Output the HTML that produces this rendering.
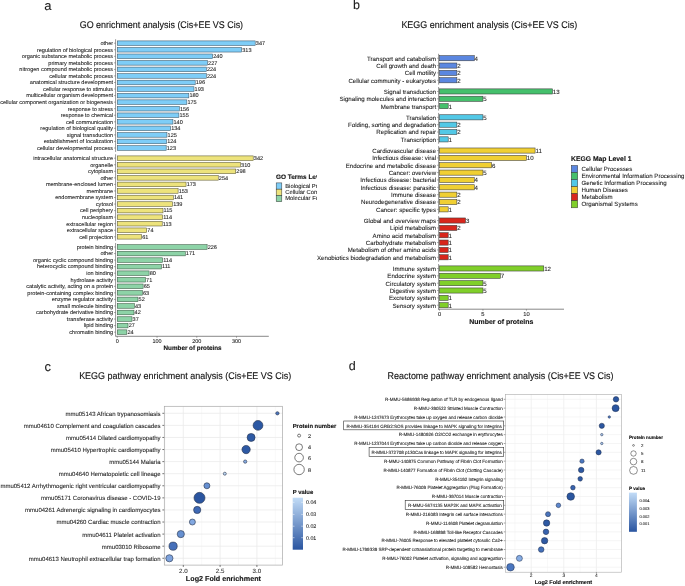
<!DOCTYPE html>
<html><head><meta charset="utf-8"><style>
html,body{margin:0;padding:0;background:#fff;}
svg{display:block;font-family:"Liberation Sans",sans-serif;will-change:transform;text-rendering:geometricPrecision;}
</style></head><body>
<svg width="685" height="586" viewBox="0 0 685 586">
<rect width="685" height="586" fill="#fff"/>
<text x="44.30" y="9.80" font-size="13" fill="#1a1a1a" stroke="#1a1a1a" stroke-width="0.08">a</text>
<text x="352.90" y="9.25" font-size="12.5" fill="#1a1a1a" stroke="#1a1a1a" stroke-width="0.08">b</text>
<text x="44.60" y="371.10" font-size="13" fill="#1a1a1a" stroke="#1a1a1a" stroke-width="0.08">c</text>
<text x="348.70" y="369.70" font-size="12.5" fill="#1a1a1a" stroke="#1a1a1a" stroke-width="0.08">d</text>
<text x="161.40" y="27.70" font-size="9.7" text-anchor="middle" fill="#111" stroke="#111" stroke-width="0.12" textLength="163.34" lengthAdjust="spacingAndGlyphs">GO enrichment analysis (Cis+EE VS Cis)</text>
<line x1="115.60" y1="39.27" x2="115.60" y2="151.93" stroke="#8a8a8a" stroke-width="0.9"/>
<rect x="117.30" y="40.91" width="137.90" height="4.58" fill="#7ECDF7" stroke="#3b5566" stroke-width="0.55"/>
<line x1="114.00" y1="43.20" x2="115.60" y2="43.20" stroke="#555" stroke-width="0.5"/>
<text x="113.10" y="45.00" font-size="5.55" text-anchor="end" fill="#1c1c1c" stroke="#1c1c1c" stroke-width="0.08">other</text>
<text x="255.80" y="45.00" font-size="5.55" fill="#1c1c1c" stroke="#1c1c1c" stroke-width="0.08">347</text>
<rect x="117.30" y="47.46" width="124.39" height="4.58" fill="#7ECDF7" stroke="#3b5566" stroke-width="0.55"/>
<line x1="114.00" y1="49.75" x2="115.60" y2="49.75" stroke="#555" stroke-width="0.5"/>
<text x="113.10" y="51.55" font-size="5.55" text-anchor="end" fill="#1c1c1c" stroke="#1c1c1c" stroke-width="0.08">regulation of biological process</text>
<text x="242.29" y="51.55" font-size="5.55" fill="#1c1c1c" stroke="#1c1c1c" stroke-width="0.08">313</text>
<rect x="117.30" y="54.01" width="95.38" height="4.58" fill="#7ECDF7" stroke="#3b5566" stroke-width="0.55"/>
<line x1="114.00" y1="56.30" x2="115.60" y2="56.30" stroke="#555" stroke-width="0.5"/>
<text x="113.10" y="58.10" font-size="5.55" text-anchor="end" fill="#1c1c1c" stroke="#1c1c1c" stroke-width="0.08">organic substance metabolic process</text>
<text x="213.28" y="58.10" font-size="5.55" fill="#1c1c1c" stroke="#1c1c1c" stroke-width="0.08">240</text>
<rect x="117.30" y="60.56" width="90.21" height="4.58" fill="#7ECDF7" stroke="#3b5566" stroke-width="0.55"/>
<line x1="114.00" y1="62.85" x2="115.60" y2="62.85" stroke="#555" stroke-width="0.5"/>
<text x="113.10" y="64.65" font-size="5.55" text-anchor="end" fill="#1c1c1c" stroke="#1c1c1c" stroke-width="0.08">primary metabolic process</text>
<text x="208.11" y="64.65" font-size="5.55" fill="#1c1c1c" stroke="#1c1c1c" stroke-width="0.08">227</text>
<rect x="117.30" y="67.11" width="89.02" height="4.58" fill="#7ECDF7" stroke="#3b5566" stroke-width="0.55"/>
<line x1="114.00" y1="69.40" x2="115.60" y2="69.40" stroke="#555" stroke-width="0.5"/>
<text x="113.10" y="71.20" font-size="5.55" text-anchor="end" fill="#1c1c1c" stroke="#1c1c1c" stroke-width="0.08">nitrogen compound metabolic process</text>
<text x="206.92" y="71.20" font-size="5.55" fill="#1c1c1c" stroke="#1c1c1c" stroke-width="0.08">224</text>
<rect x="117.30" y="73.66" width="89.02" height="4.58" fill="#7ECDF7" stroke="#3b5566" stroke-width="0.55"/>
<line x1="114.00" y1="75.95" x2="115.60" y2="75.95" stroke="#555" stroke-width="0.5"/>
<text x="113.10" y="77.75" font-size="5.55" text-anchor="end" fill="#1c1c1c" stroke="#1c1c1c" stroke-width="0.08">cellular metabolic process</text>
<text x="206.92" y="77.75" font-size="5.55" fill="#1c1c1c" stroke="#1c1c1c" stroke-width="0.08">224</text>
<rect x="117.30" y="80.21" width="77.89" height="4.58" fill="#7ECDF7" stroke="#3b5566" stroke-width="0.55"/>
<line x1="114.00" y1="82.50" x2="115.60" y2="82.50" stroke="#555" stroke-width="0.5"/>
<text x="113.10" y="84.30" font-size="5.55" text-anchor="end" fill="#1c1c1c" stroke="#1c1c1c" stroke-width="0.08">anatomical structure development</text>
<text x="195.79" y="84.30" font-size="5.55" fill="#1c1c1c" stroke="#1c1c1c" stroke-width="0.08">196</text>
<rect x="117.30" y="86.76" width="76.70" height="4.58" fill="#7ECDF7" stroke="#3b5566" stroke-width="0.55"/>
<line x1="114.00" y1="89.05" x2="115.60" y2="89.05" stroke="#555" stroke-width="0.5"/>
<text x="113.10" y="90.85" font-size="5.55" text-anchor="end" fill="#1c1c1c" stroke="#1c1c1c" stroke-width="0.08">cellular response to stimulus</text>
<text x="194.60" y="90.85" font-size="5.55" fill="#1c1c1c" stroke="#1c1c1c" stroke-width="0.08">193</text>
<rect x="117.30" y="93.31" width="71.53" height="4.58" fill="#7ECDF7" stroke="#3b5566" stroke-width="0.55"/>
<line x1="114.00" y1="95.60" x2="115.60" y2="95.60" stroke="#555" stroke-width="0.5"/>
<text x="113.10" y="97.40" font-size="5.55" text-anchor="end" fill="#1c1c1c" stroke="#1c1c1c" stroke-width="0.08">multicellular organism development</text>
<text x="189.43" y="97.40" font-size="5.55" fill="#1c1c1c" stroke="#1c1c1c" stroke-width="0.08">180</text>
<rect x="117.30" y="99.86" width="69.55" height="4.58" fill="#7ECDF7" stroke="#3b5566" stroke-width="0.55"/>
<line x1="114.00" y1="102.15" x2="115.60" y2="102.15" stroke="#555" stroke-width="0.5"/>
<text x="113.10" y="103.95" font-size="5.55" text-anchor="end" fill="#1c1c1c" stroke="#1c1c1c" stroke-width="0.08">cellular component organization or biogenesis</text>
<text x="187.44" y="103.95" font-size="5.55" fill="#1c1c1c" stroke="#1c1c1c" stroke-width="0.08">175</text>
<rect x="117.30" y="106.41" width="61.99" height="4.58" fill="#7ECDF7" stroke="#3b5566" stroke-width="0.55"/>
<line x1="114.00" y1="108.70" x2="115.60" y2="108.70" stroke="#555" stroke-width="0.5"/>
<text x="113.10" y="110.50" font-size="5.55" text-anchor="end" fill="#1c1c1c" stroke="#1c1c1c" stroke-width="0.08">response to stress</text>
<text x="179.89" y="110.50" font-size="5.55" fill="#1c1c1c" stroke="#1c1c1c" stroke-width="0.08">156</text>
<rect x="117.30" y="112.96" width="61.60" height="4.58" fill="#7ECDF7" stroke="#3b5566" stroke-width="0.55"/>
<line x1="114.00" y1="115.25" x2="115.60" y2="115.25" stroke="#555" stroke-width="0.5"/>
<text x="113.10" y="117.05" font-size="5.55" text-anchor="end" fill="#1c1c1c" stroke="#1c1c1c" stroke-width="0.08">response to chemical</text>
<text x="179.50" y="117.05" font-size="5.55" fill="#1c1c1c" stroke="#1c1c1c" stroke-width="0.08">155</text>
<rect x="117.30" y="119.51" width="55.64" height="4.58" fill="#7ECDF7" stroke="#3b5566" stroke-width="0.55"/>
<line x1="114.00" y1="121.80" x2="115.60" y2="121.80" stroke="#555" stroke-width="0.5"/>
<text x="113.10" y="123.60" font-size="5.55" text-anchor="end" fill="#1c1c1c" stroke="#1c1c1c" stroke-width="0.08">cell communication</text>
<text x="173.54" y="123.60" font-size="5.55" fill="#1c1c1c" stroke="#1c1c1c" stroke-width="0.08">140</text>
<rect x="117.30" y="126.06" width="53.25" height="4.58" fill="#7ECDF7" stroke="#3b5566" stroke-width="0.55"/>
<line x1="114.00" y1="128.35" x2="115.60" y2="128.35" stroke="#555" stroke-width="0.5"/>
<text x="113.10" y="130.15" font-size="5.55" text-anchor="end" fill="#1c1c1c" stroke="#1c1c1c" stroke-width="0.08">regulation of biological quality</text>
<text x="171.15" y="130.15" font-size="5.55" fill="#1c1c1c" stroke="#1c1c1c" stroke-width="0.08">134</text>
<rect x="117.30" y="132.61" width="49.67" height="4.58" fill="#7ECDF7" stroke="#3b5566" stroke-width="0.55"/>
<line x1="114.00" y1="134.90" x2="115.60" y2="134.90" stroke="#555" stroke-width="0.5"/>
<text x="113.10" y="136.70" font-size="5.55" text-anchor="end" fill="#1c1c1c" stroke="#1c1c1c" stroke-width="0.08">signal transduction</text>
<text x="167.57" y="136.70" font-size="5.55" fill="#1c1c1c" stroke="#1c1c1c" stroke-width="0.08">125</text>
<rect x="117.30" y="139.16" width="49.28" height="4.58" fill="#7ECDF7" stroke="#3b5566" stroke-width="0.55"/>
<line x1="114.00" y1="141.45" x2="115.60" y2="141.45" stroke="#555" stroke-width="0.5"/>
<text x="113.10" y="143.25" font-size="5.55" text-anchor="end" fill="#1c1c1c" stroke="#1c1c1c" stroke-width="0.08">establishment of localization</text>
<text x="167.18" y="143.25" font-size="5.55" fill="#1c1c1c" stroke="#1c1c1c" stroke-width="0.08">124</text>
<rect x="117.30" y="145.71" width="48.88" height="4.58" fill="#7ECDF7" stroke="#3b5566" stroke-width="0.55"/>
<line x1="114.00" y1="148.00" x2="115.60" y2="148.00" stroke="#555" stroke-width="0.5"/>
<text x="113.10" y="149.80" font-size="5.55" text-anchor="end" fill="#1c1c1c" stroke="#1c1c1c" stroke-width="0.08">cellular developmental process</text>
<text x="166.78" y="149.80" font-size="5.55" fill="#1c1c1c" stroke="#1c1c1c" stroke-width="0.08">123</text>
<line x1="115.60" y1="154.27" x2="115.60" y2="240.73" stroke="#8a8a8a" stroke-width="0.9"/>
<rect x="117.30" y="155.91" width="135.91" height="4.58" fill="#EDE37C" stroke="#5a5630" stroke-width="0.55"/>
<line x1="114.00" y1="158.20" x2="115.60" y2="158.20" stroke="#555" stroke-width="0.5"/>
<text x="113.10" y="160.00" font-size="5.55" text-anchor="end" fill="#1c1c1c" stroke="#1c1c1c" stroke-width="0.08">intracellular anatomical structure</text>
<text x="253.81" y="160.00" font-size="5.55" fill="#1c1c1c" stroke="#1c1c1c" stroke-width="0.08">342</text>
<rect x="117.30" y="162.46" width="123.19" height="4.58" fill="#EDE37C" stroke="#5a5630" stroke-width="0.55"/>
<line x1="114.00" y1="164.75" x2="115.60" y2="164.75" stroke="#555" stroke-width="0.5"/>
<text x="113.10" y="166.55" font-size="5.55" text-anchor="end" fill="#1c1c1c" stroke="#1c1c1c" stroke-width="0.08">organelle</text>
<text x="241.09" y="166.55" font-size="5.55" fill="#1c1c1c" stroke="#1c1c1c" stroke-width="0.08">310</text>
<rect x="117.30" y="169.01" width="118.43" height="4.58" fill="#EDE37C" stroke="#5a5630" stroke-width="0.55"/>
<line x1="114.00" y1="171.30" x2="115.60" y2="171.30" stroke="#555" stroke-width="0.5"/>
<text x="113.10" y="173.10" font-size="5.55" text-anchor="end" fill="#1c1c1c" stroke="#1c1c1c" stroke-width="0.08">cytoplasm</text>
<text x="236.33" y="173.10" font-size="5.55" fill="#1c1c1c" stroke="#1c1c1c" stroke-width="0.08">298</text>
<rect x="117.30" y="175.56" width="100.94" height="4.58" fill="#EDE37C" stroke="#5a5630" stroke-width="0.55"/>
<line x1="114.00" y1="177.85" x2="115.60" y2="177.85" stroke="#555" stroke-width="0.5"/>
<text x="113.10" y="179.65" font-size="5.55" text-anchor="end" fill="#1c1c1c" stroke="#1c1c1c" stroke-width="0.08">other</text>
<text x="218.84" y="179.65" font-size="5.55" fill="#1c1c1c" stroke="#1c1c1c" stroke-width="0.08">254</text>
<rect x="117.30" y="182.11" width="68.75" height="4.58" fill="#EDE37C" stroke="#5a5630" stroke-width="0.55"/>
<line x1="114.00" y1="184.40" x2="115.60" y2="184.40" stroke="#555" stroke-width="0.5"/>
<text x="113.10" y="186.20" font-size="5.55" text-anchor="end" fill="#1c1c1c" stroke="#1c1c1c" stroke-width="0.08">membrane-enclosed lumen</text>
<text x="186.65" y="186.20" font-size="5.55" fill="#1c1c1c" stroke="#1c1c1c" stroke-width="0.08">173</text>
<rect x="117.30" y="188.66" width="60.80" height="4.58" fill="#EDE37C" stroke="#5a5630" stroke-width="0.55"/>
<line x1="114.00" y1="190.95" x2="115.60" y2="190.95" stroke="#555" stroke-width="0.5"/>
<text x="113.10" y="192.75" font-size="5.55" text-anchor="end" fill="#1c1c1c" stroke="#1c1c1c" stroke-width="0.08">membrane</text>
<text x="178.70" y="192.75" font-size="5.55" fill="#1c1c1c" stroke="#1c1c1c" stroke-width="0.08">153</text>
<rect x="117.30" y="195.21" width="56.03" height="4.58" fill="#EDE37C" stroke="#5a5630" stroke-width="0.55"/>
<line x1="114.00" y1="197.50" x2="115.60" y2="197.50" stroke="#555" stroke-width="0.5"/>
<text x="113.10" y="199.30" font-size="5.55" text-anchor="end" fill="#1c1c1c" stroke="#1c1c1c" stroke-width="0.08">endomembrane system</text>
<text x="173.93" y="199.30" font-size="5.55" fill="#1c1c1c" stroke="#1c1c1c" stroke-width="0.08">141</text>
<rect x="117.30" y="201.76" width="55.24" height="4.58" fill="#EDE37C" stroke="#5a5630" stroke-width="0.55"/>
<line x1="114.00" y1="204.05" x2="115.60" y2="204.05" stroke="#555" stroke-width="0.5"/>
<text x="113.10" y="205.85" font-size="5.55" text-anchor="end" fill="#1c1c1c" stroke="#1c1c1c" stroke-width="0.08">cytosol</text>
<text x="173.14" y="205.85" font-size="5.55" fill="#1c1c1c" stroke="#1c1c1c" stroke-width="0.08">139</text>
<rect x="117.30" y="208.31" width="45.70" height="4.58" fill="#EDE37C" stroke="#5a5630" stroke-width="0.55"/>
<line x1="114.00" y1="210.60" x2="115.60" y2="210.60" stroke="#555" stroke-width="0.5"/>
<text x="113.10" y="212.40" font-size="5.55" text-anchor="end" fill="#1c1c1c" stroke="#1c1c1c" stroke-width="0.08">cell periphery</text>
<text x="163.60" y="212.40" font-size="5.55" fill="#1c1c1c" stroke="#1c1c1c" stroke-width="0.08">115</text>
<rect x="117.30" y="214.86" width="45.30" height="4.58" fill="#EDE37C" stroke="#5a5630" stroke-width="0.55"/>
<line x1="114.00" y1="217.15" x2="115.60" y2="217.15" stroke="#555" stroke-width="0.5"/>
<text x="113.10" y="218.95" font-size="5.55" text-anchor="end" fill="#1c1c1c" stroke="#1c1c1c" stroke-width="0.08">nucleoplasm</text>
<text x="163.20" y="218.95" font-size="5.55" fill="#1c1c1c" stroke="#1c1c1c" stroke-width="0.08">114</text>
<rect x="117.30" y="221.41" width="44.91" height="4.58" fill="#EDE37C" stroke="#5a5630" stroke-width="0.55"/>
<line x1="114.00" y1="223.70" x2="115.60" y2="223.70" stroke="#555" stroke-width="0.5"/>
<text x="113.10" y="225.50" font-size="5.55" text-anchor="end" fill="#1c1c1c" stroke="#1c1c1c" stroke-width="0.08">extracellular region</text>
<text x="162.81" y="225.50" font-size="5.55" fill="#1c1c1c" stroke="#1c1c1c" stroke-width="0.08">113</text>
<rect x="117.30" y="227.96" width="29.41" height="4.58" fill="#EDE37C" stroke="#5a5630" stroke-width="0.55"/>
<line x1="114.00" y1="230.25" x2="115.60" y2="230.25" stroke="#555" stroke-width="0.5"/>
<text x="113.10" y="232.05" font-size="5.55" text-anchor="end" fill="#1c1c1c" stroke="#1c1c1c" stroke-width="0.08">extracellular space</text>
<text x="147.31" y="232.05" font-size="5.55" fill="#1c1c1c" stroke="#1c1c1c" stroke-width="0.08">74</text>
<rect x="117.30" y="234.51" width="24.24" height="4.58" fill="#EDE37C" stroke="#5a5630" stroke-width="0.55"/>
<line x1="114.00" y1="236.80" x2="115.60" y2="236.80" stroke="#555" stroke-width="0.5"/>
<text x="113.10" y="238.60" font-size="5.55" text-anchor="end" fill="#1c1c1c" stroke="#1c1c1c" stroke-width="0.08">cell projection</text>
<text x="142.14" y="238.60" font-size="5.55" fill="#1c1c1c" stroke="#1c1c1c" stroke-width="0.08">61</text>
<line x1="115.60" y1="243.07" x2="115.60" y2="336.08" stroke="#8a8a8a" stroke-width="0.9"/>
<rect x="117.30" y="244.71" width="89.81" height="4.58" fill="#8DD3A7" stroke="#35553f" stroke-width="0.55"/>
<line x1="114.00" y1="247.00" x2="115.60" y2="247.00" stroke="#555" stroke-width="0.5"/>
<text x="113.10" y="248.80" font-size="5.55" text-anchor="end" fill="#1c1c1c" stroke="#1c1c1c" stroke-width="0.08">protein binding</text>
<text x="207.71" y="248.80" font-size="5.55" fill="#1c1c1c" stroke="#1c1c1c" stroke-width="0.08">226</text>
<rect x="117.30" y="251.26" width="67.96" height="4.58" fill="#8DD3A7" stroke="#35553f" stroke-width="0.55"/>
<line x1="114.00" y1="253.55" x2="115.60" y2="253.55" stroke="#555" stroke-width="0.5"/>
<text x="113.10" y="255.35" font-size="5.55" text-anchor="end" fill="#1c1c1c" stroke="#1c1c1c" stroke-width="0.08">other</text>
<text x="185.86" y="255.35" font-size="5.55" fill="#1c1c1c" stroke="#1c1c1c" stroke-width="0.08">171</text>
<rect x="117.30" y="257.81" width="45.30" height="4.58" fill="#8DD3A7" stroke="#35553f" stroke-width="0.55"/>
<line x1="114.00" y1="260.10" x2="115.60" y2="260.10" stroke="#555" stroke-width="0.5"/>
<text x="113.10" y="261.90" font-size="5.55" text-anchor="end" fill="#1c1c1c" stroke="#1c1c1c" stroke-width="0.08">organic cyclic compound binding</text>
<text x="163.20" y="261.90" font-size="5.55" fill="#1c1c1c" stroke="#1c1c1c" stroke-width="0.08">114</text>
<rect x="117.30" y="264.36" width="44.11" height="4.58" fill="#8DD3A7" stroke="#35553f" stroke-width="0.55"/>
<line x1="114.00" y1="266.65" x2="115.60" y2="266.65" stroke="#555" stroke-width="0.5"/>
<text x="113.10" y="268.45" font-size="5.55" text-anchor="end" fill="#1c1c1c" stroke="#1c1c1c" stroke-width="0.08">heterocyclic compound binding</text>
<text x="162.01" y="268.45" font-size="5.55" fill="#1c1c1c" stroke="#1c1c1c" stroke-width="0.08">111</text>
<rect x="117.30" y="270.91" width="31.79" height="4.58" fill="#8DD3A7" stroke="#35553f" stroke-width="0.55"/>
<line x1="114.00" y1="273.20" x2="115.60" y2="273.20" stroke="#555" stroke-width="0.5"/>
<text x="113.10" y="275.00" font-size="5.55" text-anchor="end" fill="#1c1c1c" stroke="#1c1c1c" stroke-width="0.08">ion binding</text>
<text x="149.69" y="275.00" font-size="5.55" fill="#1c1c1c" stroke="#1c1c1c" stroke-width="0.08">80</text>
<rect x="117.30" y="277.46" width="28.22" height="4.58" fill="#8DD3A7" stroke="#35553f" stroke-width="0.55"/>
<line x1="114.00" y1="279.75" x2="115.60" y2="279.75" stroke="#555" stroke-width="0.5"/>
<text x="113.10" y="281.55" font-size="5.55" text-anchor="end" fill="#1c1c1c" stroke="#1c1c1c" stroke-width="0.08">hydrolase activity</text>
<text x="146.12" y="281.55" font-size="5.55" fill="#1c1c1c" stroke="#1c1c1c" stroke-width="0.08">71</text>
<rect x="117.30" y="284.01" width="25.83" height="4.58" fill="#8DD3A7" stroke="#35553f" stroke-width="0.55"/>
<line x1="114.00" y1="286.30" x2="115.60" y2="286.30" stroke="#555" stroke-width="0.5"/>
<text x="113.10" y="288.10" font-size="5.55" text-anchor="end" fill="#1c1c1c" stroke="#1c1c1c" stroke-width="0.08">catalytic activity, acting on a protein</text>
<text x="143.73" y="288.10" font-size="5.55" fill="#1c1c1c" stroke="#1c1c1c" stroke-width="0.08">65</text>
<rect x="117.30" y="290.56" width="25.04" height="4.58" fill="#8DD3A7" stroke="#35553f" stroke-width="0.55"/>
<line x1="114.00" y1="292.85" x2="115.60" y2="292.85" stroke="#555" stroke-width="0.5"/>
<text x="113.10" y="294.65" font-size="5.55" text-anchor="end" fill="#1c1c1c" stroke="#1c1c1c" stroke-width="0.08">protein-containing complex binding</text>
<text x="142.94" y="294.65" font-size="5.55" fill="#1c1c1c" stroke="#1c1c1c" stroke-width="0.08">63</text>
<rect x="117.30" y="297.11" width="20.66" height="4.58" fill="#8DD3A7" stroke="#35553f" stroke-width="0.55"/>
<line x1="114.00" y1="299.40" x2="115.60" y2="299.40" stroke="#555" stroke-width="0.5"/>
<text x="113.10" y="301.20" font-size="5.55" text-anchor="end" fill="#1c1c1c" stroke="#1c1c1c" stroke-width="0.08">enzyme regulator activity</text>
<text x="138.56" y="301.20" font-size="5.55" fill="#1c1c1c" stroke="#1c1c1c" stroke-width="0.08">52</text>
<rect x="117.30" y="303.66" width="17.09" height="4.58" fill="#8DD3A7" stroke="#35553f" stroke-width="0.55"/>
<line x1="114.00" y1="305.95" x2="115.60" y2="305.95" stroke="#555" stroke-width="0.5"/>
<text x="113.10" y="307.75" font-size="5.55" text-anchor="end" fill="#1c1c1c" stroke="#1c1c1c" stroke-width="0.08">small molecule binding</text>
<text x="134.99" y="307.75" font-size="5.55" fill="#1c1c1c" stroke="#1c1c1c" stroke-width="0.08">43</text>
<rect x="117.30" y="310.21" width="16.69" height="4.58" fill="#8DD3A7" stroke="#35553f" stroke-width="0.55"/>
<line x1="114.00" y1="312.50" x2="115.60" y2="312.50" stroke="#555" stroke-width="0.5"/>
<text x="113.10" y="314.30" font-size="5.55" text-anchor="end" fill="#1c1c1c" stroke="#1c1c1c" stroke-width="0.08">carbohydrate derivative binding</text>
<text x="134.59" y="314.30" font-size="5.55" fill="#1c1c1c" stroke="#1c1c1c" stroke-width="0.08">42</text>
<rect x="117.30" y="316.76" width="14.70" height="4.58" fill="#8DD3A7" stroke="#35553f" stroke-width="0.55"/>
<line x1="114.00" y1="319.05" x2="115.60" y2="319.05" stroke="#555" stroke-width="0.5"/>
<text x="113.10" y="320.85" font-size="5.55" text-anchor="end" fill="#1c1c1c" stroke="#1c1c1c" stroke-width="0.08">transferase activity</text>
<text x="132.60" y="320.85" font-size="5.55" fill="#1c1c1c" stroke="#1c1c1c" stroke-width="0.08">37</text>
<rect x="117.30" y="323.31" width="10.73" height="4.58" fill="#8DD3A7" stroke="#35553f" stroke-width="0.55"/>
<line x1="114.00" y1="325.60" x2="115.60" y2="325.60" stroke="#555" stroke-width="0.5"/>
<text x="113.10" y="327.40" font-size="5.55" text-anchor="end" fill="#1c1c1c" stroke="#1c1c1c" stroke-width="0.08">lipid binding</text>
<text x="128.63" y="327.40" font-size="5.55" fill="#1c1c1c" stroke="#1c1c1c" stroke-width="0.08">27</text>
<rect x="117.30" y="329.86" width="9.54" height="4.58" fill="#8DD3A7" stroke="#35553f" stroke-width="0.55"/>
<line x1="114.00" y1="332.15" x2="115.60" y2="332.15" stroke="#555" stroke-width="0.5"/>
<text x="113.10" y="333.95" font-size="5.55" text-anchor="end" fill="#1c1c1c" stroke="#1c1c1c" stroke-width="0.08">chromatin binding</text>
<text x="127.44" y="333.95" font-size="5.55" fill="#1c1c1c" stroke="#1c1c1c" stroke-width="0.08">24</text>
<line x1="115.25" y1="336.30" x2="268.80" y2="336.30" stroke="#555" stroke-width="0.7"/>
<line x1="117.30" y1="336.30" x2="117.30" y2="337.80" stroke="#555" stroke-width="0.5"/>
<text x="117.30" y="342.50" font-size="5.5" text-anchor="middle" fill="#1c1c1c" stroke="#1c1c1c" stroke-width="0.08">0</text>
<line x1="157.04" y1="336.30" x2="157.04" y2="337.80" stroke="#555" stroke-width="0.5"/>
<text x="157.04" y="342.50" font-size="5.5" text-anchor="middle" fill="#1c1c1c" stroke="#1c1c1c" stroke-width="0.08">100</text>
<line x1="196.78" y1="336.30" x2="196.78" y2="337.80" stroke="#555" stroke-width="0.5"/>
<text x="196.78" y="342.50" font-size="5.5" text-anchor="middle" fill="#1c1c1c" stroke="#1c1c1c" stroke-width="0.08">200</text>
<line x1="236.52" y1="336.30" x2="236.52" y2="337.80" stroke="#555" stroke-width="0.5"/>
<text x="236.52" y="342.50" font-size="5.5" text-anchor="middle" fill="#1c1c1c" stroke="#1c1c1c" stroke-width="0.08">300</text>
<text x="192.60" y="349.50" font-size="6.3" text-anchor="middle" font-weight="bold" fill="#111" stroke="#111" stroke-width="0.12">Number of proteins</text>
<svg x="0" y="0" width="316.2" height="586" overflow="hidden">
<text x="276.00" y="179.00" font-size="6.45" font-weight="bold" fill="#111" stroke="#111" stroke-width="0.12">GO Terms Level 1</text>
<rect x="276.20" y="182.90" width="5.60" height="6.27" fill="#7ECDF7" stroke="#333" stroke-width="0.5"/>
<text x="285.20" y="187.80" font-size="5.85" fill="#1c1c1c" stroke="#1c1c1c" stroke-width="0.08">Biological Process</text>
<rect x="276.20" y="189.17" width="5.60" height="6.27" fill="#EDE37C" stroke="#333" stroke-width="0.5"/>
<text x="285.20" y="194.07" font-size="5.85" fill="#1c1c1c" stroke="#1c1c1c" stroke-width="0.08">Cellular Component</text>
<rect x="276.20" y="195.44" width="5.60" height="6.27" fill="#8DD3A7" stroke="#333" stroke-width="0.5"/>
<text x="285.20" y="200.34" font-size="5.85" fill="#1c1c1c" stroke="#1c1c1c" stroke-width="0.08">Molecular Function</text>
</svg>
<text x="489.30" y="27.80" font-size="9.7" text-anchor="middle" fill="#111" stroke="#111" stroke-width="0.12" textLength="175.82" lengthAdjust="spacingAndGlyphs">KEGG enrichment analysis (Cis+EE VS Cis)</text>
<line x1="438.60" y1="53.80" x2="438.60" y2="84.67" stroke="#8a8a8a" stroke-width="0.9"/>
<rect x="439.50" y="55.64" width="34.76" height="5.14" fill="#5B87E0" stroke="#3a3a3a" stroke-width="0.55"/>
<line x1="437.00" y1="58.21" x2="438.60" y2="58.21" stroke="#555" stroke-width="0.5"/>
<text x="436.10" y="60.61" font-size="6.15" text-anchor="end" fill="#1c1c1c" stroke="#1c1c1c" stroke-width="0.08">Transport and catabolism</text>
<text x="474.61" y="60.61" font-size="6.15" fill="#1c1c1c" stroke="#1c1c1c" stroke-width="0.08">4</text>
<rect x="439.50" y="62.99" width="17.38" height="5.14" fill="#5B87E0" stroke="#3a3a3a" stroke-width="0.55"/>
<line x1="437.00" y1="65.56" x2="438.60" y2="65.56" stroke="#555" stroke-width="0.5"/>
<text x="436.10" y="67.96" font-size="6.15" text-anchor="end" fill="#1c1c1c" stroke="#1c1c1c" stroke-width="0.08">Cell growth and death</text>
<text x="457.23" y="67.96" font-size="6.15" fill="#1c1c1c" stroke="#1c1c1c" stroke-width="0.08">2</text>
<rect x="439.50" y="70.34" width="17.38" height="5.14" fill="#5B87E0" stroke="#3a3a3a" stroke-width="0.55"/>
<line x1="437.00" y1="72.91" x2="438.60" y2="72.91" stroke="#555" stroke-width="0.5"/>
<text x="436.10" y="75.31" font-size="6.15" text-anchor="end" fill="#1c1c1c" stroke="#1c1c1c" stroke-width="0.08">Cell motility</text>
<text x="457.23" y="75.31" font-size="6.15" fill="#1c1c1c" stroke="#1c1c1c" stroke-width="0.08">2</text>
<rect x="439.50" y="77.69" width="17.38" height="5.14" fill="#5B87E0" stroke="#3a3a3a" stroke-width="0.55"/>
<line x1="437.00" y1="80.26" x2="438.60" y2="80.26" stroke="#555" stroke-width="0.5"/>
<text x="436.10" y="82.66" font-size="6.15" text-anchor="end" fill="#1c1c1c" stroke="#1c1c1c" stroke-width="0.08">Cellular community - eukaryotes</text>
<text x="457.23" y="82.66" font-size="6.15" fill="#1c1c1c" stroke="#1c1c1c" stroke-width="0.08">2</text>
<line x1="438.60" y1="87.03" x2="438.60" y2="110.55" stroke="#8a8a8a" stroke-width="0.9"/>
<rect x="439.50" y="88.87" width="112.97" height="5.14" fill="#45C06C" stroke="#3a3a3a" stroke-width="0.55"/>
<line x1="437.00" y1="91.44" x2="438.60" y2="91.44" stroke="#555" stroke-width="0.5"/>
<text x="436.10" y="93.84" font-size="6.15" text-anchor="end" fill="#1c1c1c" stroke="#1c1c1c" stroke-width="0.08">Signal transduction</text>
<text x="552.82" y="93.84" font-size="6.15" fill="#1c1c1c" stroke="#1c1c1c" stroke-width="0.08">13</text>
<rect x="439.50" y="96.22" width="43.45" height="5.14" fill="#45C06C" stroke="#3a3a3a" stroke-width="0.55"/>
<line x1="437.00" y1="98.79" x2="438.60" y2="98.79" stroke="#555" stroke-width="0.5"/>
<text x="436.10" y="101.19" font-size="6.15" text-anchor="end" fill="#1c1c1c" stroke="#1c1c1c" stroke-width="0.08">Signaling molecules and interaction</text>
<text x="483.30" y="101.19" font-size="6.15" fill="#1c1c1c" stroke="#1c1c1c" stroke-width="0.08">5</text>
<rect x="439.50" y="103.57" width="8.69" height="5.14" fill="#45C06C" stroke="#3a3a3a" stroke-width="0.55"/>
<line x1="437.00" y1="106.14" x2="438.60" y2="106.14" stroke="#555" stroke-width="0.5"/>
<text x="436.10" y="108.54" font-size="6.15" text-anchor="end" fill="#1c1c1c" stroke="#1c1c1c" stroke-width="0.08">Membrane transport</text>
<text x="448.54" y="108.54" font-size="6.15" fill="#1c1c1c" stroke="#1c1c1c" stroke-width="0.08">1</text>
<line x1="438.60" y1="112.91" x2="438.60" y2="143.78" stroke="#8a8a8a" stroke-width="0.9"/>
<rect x="439.50" y="114.75" width="43.45" height="5.14" fill="#52C8E6" stroke="#3a3a3a" stroke-width="0.55"/>
<line x1="437.00" y1="117.32" x2="438.60" y2="117.32" stroke="#555" stroke-width="0.5"/>
<text x="436.10" y="119.72" font-size="6.15" text-anchor="end" fill="#1c1c1c" stroke="#1c1c1c" stroke-width="0.08">Translation</text>
<text x="483.30" y="119.72" font-size="6.15" fill="#1c1c1c" stroke="#1c1c1c" stroke-width="0.08">5</text>
<rect x="439.50" y="122.10" width="17.38" height="5.14" fill="#52C8E6" stroke="#3a3a3a" stroke-width="0.55"/>
<line x1="437.00" y1="124.67" x2="438.60" y2="124.67" stroke="#555" stroke-width="0.5"/>
<text x="436.10" y="127.07" font-size="6.15" text-anchor="end" fill="#1c1c1c" stroke="#1c1c1c" stroke-width="0.08">Folding, sorting and degradation</text>
<text x="457.23" y="127.07" font-size="6.15" fill="#1c1c1c" stroke="#1c1c1c" stroke-width="0.08">2</text>
<rect x="439.50" y="129.45" width="17.38" height="5.14" fill="#52C8E6" stroke="#3a3a3a" stroke-width="0.55"/>
<line x1="437.00" y1="132.02" x2="438.60" y2="132.02" stroke="#555" stroke-width="0.5"/>
<text x="436.10" y="134.42" font-size="6.15" text-anchor="end" fill="#1c1c1c" stroke="#1c1c1c" stroke-width="0.08">Replication and repair</text>
<text x="457.23" y="134.42" font-size="6.15" fill="#1c1c1c" stroke="#1c1c1c" stroke-width="0.08">2</text>
<rect x="439.50" y="136.80" width="8.69" height="5.14" fill="#52C8E6" stroke="#3a3a3a" stroke-width="0.55"/>
<line x1="437.00" y1="139.37" x2="438.60" y2="139.37" stroke="#555" stroke-width="0.5"/>
<text x="436.10" y="141.77" font-size="6.15" text-anchor="end" fill="#1c1c1c" stroke="#1c1c1c" stroke-width="0.08">Transcription</text>
<text x="448.54" y="141.77" font-size="6.15" fill="#1c1c1c" stroke="#1c1c1c" stroke-width="0.08">1</text>
<line x1="438.60" y1="146.14" x2="438.60" y2="213.76" stroke="#8a8a8a" stroke-width="0.9"/>
<rect x="439.50" y="147.98" width="95.59" height="5.14" fill="#F0CF33" stroke="#3a3a3a" stroke-width="0.55"/>
<line x1="437.00" y1="150.55" x2="438.60" y2="150.55" stroke="#555" stroke-width="0.5"/>
<text x="436.10" y="152.95" font-size="6.15" text-anchor="end" fill="#1c1c1c" stroke="#1c1c1c" stroke-width="0.08">Cardiovascular disease</text>
<text x="535.44" y="152.95" font-size="6.15" fill="#1c1c1c" stroke="#1c1c1c" stroke-width="0.08">11</text>
<rect x="439.50" y="155.33" width="86.90" height="5.14" fill="#F0CF33" stroke="#3a3a3a" stroke-width="0.55"/>
<line x1="437.00" y1="157.90" x2="438.60" y2="157.90" stroke="#555" stroke-width="0.5"/>
<text x="436.10" y="160.30" font-size="6.15" text-anchor="end" fill="#1c1c1c" stroke="#1c1c1c" stroke-width="0.08">Infectious disease: viral</text>
<text x="526.75" y="160.30" font-size="6.15" fill="#1c1c1c" stroke="#1c1c1c" stroke-width="0.08">10</text>
<rect x="439.50" y="162.68" width="52.14" height="5.14" fill="#F0CF33" stroke="#3a3a3a" stroke-width="0.55"/>
<line x1="437.00" y1="165.25" x2="438.60" y2="165.25" stroke="#555" stroke-width="0.5"/>
<text x="436.10" y="167.65" font-size="6.15" text-anchor="end" fill="#1c1c1c" stroke="#1c1c1c" stroke-width="0.08">Endocrine and metabolic disease</text>
<text x="491.99" y="167.65" font-size="6.15" fill="#1c1c1c" stroke="#1c1c1c" stroke-width="0.08">6</text>
<rect x="439.50" y="170.03" width="43.45" height="5.14" fill="#F0CF33" stroke="#3a3a3a" stroke-width="0.55"/>
<line x1="437.00" y1="172.60" x2="438.60" y2="172.60" stroke="#555" stroke-width="0.5"/>
<text x="436.10" y="175.00" font-size="6.15" text-anchor="end" fill="#1c1c1c" stroke="#1c1c1c" stroke-width="0.08">Cancer: overview</text>
<text x="483.30" y="175.00" font-size="6.15" fill="#1c1c1c" stroke="#1c1c1c" stroke-width="0.08">5</text>
<rect x="439.50" y="177.38" width="34.76" height="5.14" fill="#F0CF33" stroke="#3a3a3a" stroke-width="0.55"/>
<line x1="437.00" y1="179.95" x2="438.60" y2="179.95" stroke="#555" stroke-width="0.5"/>
<text x="436.10" y="182.35" font-size="6.15" text-anchor="end" fill="#1c1c1c" stroke="#1c1c1c" stroke-width="0.08">Infectious disease: bacterial</text>
<text x="474.61" y="182.35" font-size="6.15" fill="#1c1c1c" stroke="#1c1c1c" stroke-width="0.08">4</text>
<rect x="439.50" y="184.73" width="34.76" height="5.14" fill="#F0CF33" stroke="#3a3a3a" stroke-width="0.55"/>
<line x1="437.00" y1="187.30" x2="438.60" y2="187.30" stroke="#555" stroke-width="0.5"/>
<text x="436.10" y="189.70" font-size="6.15" text-anchor="end" fill="#1c1c1c" stroke="#1c1c1c" stroke-width="0.08">Infectious disease: parasitic</text>
<text x="474.61" y="189.70" font-size="6.15" fill="#1c1c1c" stroke="#1c1c1c" stroke-width="0.08">4</text>
<rect x="439.50" y="192.08" width="17.38" height="5.14" fill="#F0CF33" stroke="#3a3a3a" stroke-width="0.55"/>
<line x1="437.00" y1="194.65" x2="438.60" y2="194.65" stroke="#555" stroke-width="0.5"/>
<text x="436.10" y="197.05" font-size="6.15" text-anchor="end" fill="#1c1c1c" stroke="#1c1c1c" stroke-width="0.08">Immune disease</text>
<text x="457.23" y="197.05" font-size="6.15" fill="#1c1c1c" stroke="#1c1c1c" stroke-width="0.08">2</text>
<rect x="439.50" y="199.43" width="17.38" height="5.14" fill="#F0CF33" stroke="#3a3a3a" stroke-width="0.55"/>
<line x1="437.00" y1="202.00" x2="438.60" y2="202.00" stroke="#555" stroke-width="0.5"/>
<text x="436.10" y="204.40" font-size="6.15" text-anchor="end" fill="#1c1c1c" stroke="#1c1c1c" stroke-width="0.08">Neurodegenerative disease</text>
<text x="457.23" y="204.40" font-size="6.15" fill="#1c1c1c" stroke="#1c1c1c" stroke-width="0.08">2</text>
<rect x="439.50" y="206.78" width="8.69" height="5.14" fill="#F0CF33" stroke="#3a3a3a" stroke-width="0.55"/>
<line x1="437.00" y1="209.35" x2="438.60" y2="209.35" stroke="#555" stroke-width="0.5"/>
<text x="436.10" y="211.75" font-size="6.15" text-anchor="end" fill="#1c1c1c" stroke="#1c1c1c" stroke-width="0.08">Cancer: specific types</text>
<text x="448.54" y="211.75" font-size="6.15" fill="#1c1c1c" stroke="#1c1c1c" stroke-width="0.08">1</text>
<line x1="438.60" y1="216.12" x2="438.60" y2="261.69" stroke="#8a8a8a" stroke-width="0.9"/>
<rect x="439.50" y="217.96" width="26.07" height="5.14" fill="#D8261C" stroke="#3a3a3a" stroke-width="0.55"/>
<line x1="437.00" y1="220.53" x2="438.60" y2="220.53" stroke="#555" stroke-width="0.5"/>
<text x="436.10" y="222.93" font-size="6.15" text-anchor="end" fill="#1c1c1c" stroke="#1c1c1c" stroke-width="0.08">Global and overview maps</text>
<text x="465.92" y="222.93" font-size="6.15" fill="#1c1c1c" stroke="#1c1c1c" stroke-width="0.08">3</text>
<rect x="439.50" y="225.31" width="17.38" height="5.14" fill="#D8261C" stroke="#3a3a3a" stroke-width="0.55"/>
<line x1="437.00" y1="227.88" x2="438.60" y2="227.88" stroke="#555" stroke-width="0.5"/>
<text x="436.10" y="230.28" font-size="6.15" text-anchor="end" fill="#1c1c1c" stroke="#1c1c1c" stroke-width="0.08">Lipid metabolism</text>
<text x="457.23" y="230.28" font-size="6.15" fill="#1c1c1c" stroke="#1c1c1c" stroke-width="0.08">2</text>
<rect x="439.50" y="232.66" width="8.69" height="5.14" fill="#D8261C" stroke="#3a3a3a" stroke-width="0.55"/>
<line x1="437.00" y1="235.23" x2="438.60" y2="235.23" stroke="#555" stroke-width="0.5"/>
<text x="436.10" y="237.63" font-size="6.15" text-anchor="end" fill="#1c1c1c" stroke="#1c1c1c" stroke-width="0.08">Amino acid metabolism</text>
<text x="448.54" y="237.63" font-size="6.15" fill="#1c1c1c" stroke="#1c1c1c" stroke-width="0.08">1</text>
<rect x="439.50" y="240.01" width="8.69" height="5.14" fill="#D8261C" stroke="#3a3a3a" stroke-width="0.55"/>
<line x1="437.00" y1="242.58" x2="438.60" y2="242.58" stroke="#555" stroke-width="0.5"/>
<text x="436.10" y="244.98" font-size="6.15" text-anchor="end" fill="#1c1c1c" stroke="#1c1c1c" stroke-width="0.08">Carbohydrate metabolism</text>
<text x="448.54" y="244.98" font-size="6.15" fill="#1c1c1c" stroke="#1c1c1c" stroke-width="0.08">1</text>
<rect x="439.50" y="247.36" width="8.69" height="5.14" fill="#D8261C" stroke="#3a3a3a" stroke-width="0.55"/>
<line x1="437.00" y1="249.93" x2="438.60" y2="249.93" stroke="#555" stroke-width="0.5"/>
<text x="436.10" y="252.33" font-size="6.15" text-anchor="end" fill="#1c1c1c" stroke="#1c1c1c" stroke-width="0.08">Metabolism of other amino acids</text>
<text x="448.54" y="252.33" font-size="6.15" fill="#1c1c1c" stroke="#1c1c1c" stroke-width="0.08">1</text>
<rect x="439.50" y="254.71" width="8.69" height="5.14" fill="#D8261C" stroke="#3a3a3a" stroke-width="0.55"/>
<line x1="437.00" y1="257.28" x2="438.60" y2="257.28" stroke="#555" stroke-width="0.5"/>
<text x="436.10" y="259.68" font-size="6.15" text-anchor="end" fill="#1c1c1c" stroke="#1c1c1c" stroke-width="0.08">Xenobiotics biodegradation and metabolism</text>
<text x="448.54" y="259.68" font-size="6.15" fill="#1c1c1c" stroke="#1c1c1c" stroke-width="0.08">1</text>
<line x1="438.60" y1="264.05" x2="438.60" y2="309.62" stroke="#8a8a8a" stroke-width="0.9"/>
<rect x="439.50" y="265.89" width="104.28" height="5.14" fill="#80CF2A" stroke="#3a3a3a" stroke-width="0.55"/>
<line x1="437.00" y1="268.46" x2="438.60" y2="268.46" stroke="#555" stroke-width="0.5"/>
<text x="436.10" y="270.86" font-size="6.15" text-anchor="end" fill="#1c1c1c" stroke="#1c1c1c" stroke-width="0.08">Immune system</text>
<text x="544.13" y="270.86" font-size="6.15" fill="#1c1c1c" stroke="#1c1c1c" stroke-width="0.08">12</text>
<rect x="439.50" y="273.24" width="60.83" height="5.14" fill="#80CF2A" stroke="#3a3a3a" stroke-width="0.55"/>
<line x1="437.00" y1="275.81" x2="438.60" y2="275.81" stroke="#555" stroke-width="0.5"/>
<text x="436.10" y="278.21" font-size="6.15" text-anchor="end" fill="#1c1c1c" stroke="#1c1c1c" stroke-width="0.08">Endocrine system</text>
<text x="500.68" y="278.21" font-size="6.15" fill="#1c1c1c" stroke="#1c1c1c" stroke-width="0.08">7</text>
<rect x="439.50" y="280.59" width="43.45" height="5.14" fill="#80CF2A" stroke="#3a3a3a" stroke-width="0.55"/>
<line x1="437.00" y1="283.16" x2="438.60" y2="283.16" stroke="#555" stroke-width="0.5"/>
<text x="436.10" y="285.56" font-size="6.15" text-anchor="end" fill="#1c1c1c" stroke="#1c1c1c" stroke-width="0.08">Circulatory system</text>
<text x="483.30" y="285.56" font-size="6.15" fill="#1c1c1c" stroke="#1c1c1c" stroke-width="0.08">5</text>
<rect x="439.50" y="287.94" width="43.45" height="5.14" fill="#80CF2A" stroke="#3a3a3a" stroke-width="0.55"/>
<line x1="437.00" y1="290.51" x2="438.60" y2="290.51" stroke="#555" stroke-width="0.5"/>
<text x="436.10" y="292.91" font-size="6.15" text-anchor="end" fill="#1c1c1c" stroke="#1c1c1c" stroke-width="0.08">Digestive system</text>
<text x="483.30" y="292.91" font-size="6.15" fill="#1c1c1c" stroke="#1c1c1c" stroke-width="0.08">5</text>
<rect x="439.50" y="295.29" width="8.69" height="5.14" fill="#80CF2A" stroke="#3a3a3a" stroke-width="0.55"/>
<line x1="437.00" y1="297.86" x2="438.60" y2="297.86" stroke="#555" stroke-width="0.5"/>
<text x="436.10" y="300.26" font-size="6.15" text-anchor="end" fill="#1c1c1c" stroke="#1c1c1c" stroke-width="0.08">Excretory system</text>
<text x="448.54" y="300.26" font-size="6.15" fill="#1c1c1c" stroke="#1c1c1c" stroke-width="0.08">1</text>
<rect x="439.50" y="302.64" width="8.69" height="5.14" fill="#80CF2A" stroke="#3a3a3a" stroke-width="0.55"/>
<line x1="437.00" y1="305.21" x2="438.60" y2="305.21" stroke="#555" stroke-width="0.5"/>
<text x="436.10" y="307.61" font-size="6.15" text-anchor="end" fill="#1c1c1c" stroke="#1c1c1c" stroke-width="0.08">Sensory system</text>
<text x="448.54" y="307.61" font-size="6.15" fill="#1c1c1c" stroke="#1c1c1c" stroke-width="0.08">1</text>
<line x1="438.25" y1="309.20" x2="564.00" y2="309.20" stroke="#555" stroke-width="0.7"/>
<line x1="439.50" y1="309.20" x2="439.50" y2="310.70" stroke="#555" stroke-width="0.5"/>
<text x="439.50" y="315.80" font-size="5.8" text-anchor="middle" fill="#1c1c1c" stroke="#1c1c1c" stroke-width="0.08">0</text>
<line x1="482.95" y1="309.20" x2="482.95" y2="310.70" stroke="#555" stroke-width="0.5"/>
<text x="482.95" y="315.80" font-size="5.8" text-anchor="middle" fill="#1c1c1c" stroke="#1c1c1c" stroke-width="0.08">5</text>
<line x1="526.40" y1="309.20" x2="526.40" y2="310.70" stroke="#555" stroke-width="0.5"/>
<text x="526.40" y="315.80" font-size="5.8" text-anchor="middle" fill="#1c1c1c" stroke="#1c1c1c" stroke-width="0.08">10</text>
<text x="501.30" y="323.80" font-size="6.95" text-anchor="middle" font-weight="bold" fill="#111" stroke="#111" stroke-width="0.12">Number of proteins</text>
<text x="571.00" y="161.20" font-size="6.8" font-weight="bold" fill="#111" stroke="#111" stroke-width="0.12">KEGG Map Level 1</text>
<rect x="571.30" y="165.50" width="6.40" height="7.05" fill="#5B87E0" stroke="#333" stroke-width="0.5"/>
<text x="581.50" y="170.70" font-size="6.1" fill="#1c1c1c" stroke="#1c1c1c" stroke-width="0.08">Cellular Processes</text>
<rect x="571.30" y="172.55" width="6.40" height="7.05" fill="#45C06C" stroke="#333" stroke-width="0.5"/>
<text x="581.50" y="177.75" font-size="6.1" fill="#1c1c1c" stroke="#1c1c1c" stroke-width="0.08">Environmental Information Processing</text>
<rect x="571.30" y="179.60" width="6.40" height="7.05" fill="#52C8E6" stroke="#333" stroke-width="0.5"/>
<text x="581.50" y="184.80" font-size="6.1" fill="#1c1c1c" stroke="#1c1c1c" stroke-width="0.08">Genetic Information Processing</text>
<rect x="571.30" y="186.65" width="6.40" height="7.05" fill="#F0CF33" stroke="#333" stroke-width="0.5"/>
<text x="581.50" y="191.85" font-size="6.1" fill="#1c1c1c" stroke="#1c1c1c" stroke-width="0.08">Human Diseases</text>
<rect x="571.30" y="193.70" width="6.40" height="7.05" fill="#D8261C" stroke="#333" stroke-width="0.5"/>
<text x="581.50" y="198.90" font-size="6.1" fill="#1c1c1c" stroke="#1c1c1c" stroke-width="0.08">Metabolism</text>
<rect x="571.30" y="200.75" width="6.40" height="7.05" fill="#80CF2A" stroke="#333" stroke-width="0.5"/>
<text x="581.50" y="205.95" font-size="6.1" fill="#1c1c1c" stroke="#1c1c1c" stroke-width="0.08">Organismal Systems</text>
<text x="185.20" y="379.10" font-size="9.7" text-anchor="middle" fill="#111" stroke="#111" stroke-width="0.12" textLength="212.12" lengthAdjust="spacingAndGlyphs">KEGG pathway enrichment analysis (Cis+EE VS Cis)</text>
<rect x="164.30" y="406.30" width="118.30" height="158.80" fill="#ffffff"/>
<line x1="164.90" y1="406.30" x2="164.90" y2="565.10" stroke="#f3f3f3" stroke-width="0.5"/>
<line x1="201.70" y1="406.30" x2="201.70" y2="565.10" stroke="#f3f3f3" stroke-width="0.5"/>
<line x1="238.50" y1="406.30" x2="238.50" y2="565.10" stroke="#f3f3f3" stroke-width="0.5"/>
<line x1="275.30" y1="406.30" x2="275.30" y2="565.10" stroke="#f3f3f3" stroke-width="0.5"/>
<line x1="183.30" y1="406.30" x2="183.30" y2="565.10" stroke="#ebebeb" stroke-width="0.8"/>
<line x1="220.10" y1="406.30" x2="220.10" y2="565.10" stroke="#ebebeb" stroke-width="0.8"/>
<line x1="256.90" y1="406.30" x2="256.90" y2="565.10" stroke="#ebebeb" stroke-width="0.8"/>
<line x1="164.30" y1="413.30" x2="282.60" y2="413.30" stroke="#ebebeb" stroke-width="0.8"/>
<line x1="162.40" y1="413.30" x2="164.30" y2="413.30" stroke="#333" stroke-width="0.7"/>
<text x="160.50" y="415.70" font-size="6.0" text-anchor="end" fill="#1c1c1c" stroke="#1c1c1c" stroke-width="0.08">mmu05143 African trypanosomiasis</text>
<line x1="164.30" y1="425.38" x2="282.60" y2="425.38" stroke="#ebebeb" stroke-width="0.8"/>
<line x1="162.40" y1="425.38" x2="164.30" y2="425.38" stroke="#333" stroke-width="0.7"/>
<text x="160.50" y="427.78" font-size="6.0" text-anchor="end" fill="#1c1c1c" stroke="#1c1c1c" stroke-width="0.08">mmu04610 Complement and coagulation cascades</text>
<line x1="164.30" y1="437.46" x2="282.60" y2="437.46" stroke="#ebebeb" stroke-width="0.8"/>
<line x1="162.40" y1="437.46" x2="164.30" y2="437.46" stroke="#333" stroke-width="0.7"/>
<text x="160.50" y="439.86" font-size="6.0" text-anchor="end" fill="#1c1c1c" stroke="#1c1c1c" stroke-width="0.08">mmu05414 Dilated cardiomyopathy</text>
<line x1="164.30" y1="449.54" x2="282.60" y2="449.54" stroke="#ebebeb" stroke-width="0.8"/>
<line x1="162.40" y1="449.54" x2="164.30" y2="449.54" stroke="#333" stroke-width="0.7"/>
<text x="160.50" y="451.94" font-size="6.0" text-anchor="end" fill="#1c1c1c" stroke="#1c1c1c" stroke-width="0.08">mmu05410 Hypertrophic cardiomyopathy</text>
<line x1="164.30" y1="461.62" x2="282.60" y2="461.62" stroke="#ebebeb" stroke-width="0.8"/>
<line x1="162.40" y1="461.62" x2="164.30" y2="461.62" stroke="#333" stroke-width="0.7"/>
<text x="160.50" y="464.02" font-size="6.0" text-anchor="end" fill="#1c1c1c" stroke="#1c1c1c" stroke-width="0.08">mmu05144 Malaria</text>
<line x1="164.30" y1="473.70" x2="282.60" y2="473.70" stroke="#ebebeb" stroke-width="0.8"/>
<line x1="162.40" y1="473.70" x2="164.30" y2="473.70" stroke="#333" stroke-width="0.7"/>
<text x="160.50" y="476.10" font-size="6.0" text-anchor="end" fill="#1c1c1c" stroke="#1c1c1c" stroke-width="0.08">mmu04640 Hematopoietic cell lineage</text>
<line x1="164.30" y1="485.78" x2="282.60" y2="485.78" stroke="#ebebeb" stroke-width="0.8"/>
<line x1="162.40" y1="485.78" x2="164.30" y2="485.78" stroke="#333" stroke-width="0.7"/>
<text x="160.50" y="488.18" font-size="6.0" text-anchor="end" fill="#1c1c1c" stroke="#1c1c1c" stroke-width="0.08">mmu05412 Arrhythmogenic right ventricular cardiomyopathy</text>
<line x1="164.30" y1="497.86" x2="282.60" y2="497.86" stroke="#ebebeb" stroke-width="0.8"/>
<line x1="162.40" y1="497.86" x2="164.30" y2="497.86" stroke="#333" stroke-width="0.7"/>
<text x="160.50" y="500.26" font-size="6.0" text-anchor="end" fill="#1c1c1c" stroke="#1c1c1c" stroke-width="0.08">mmu05171 Coronavirus disease - COVID-19</text>
<line x1="164.30" y1="509.94" x2="282.60" y2="509.94" stroke="#ebebeb" stroke-width="0.8"/>
<line x1="162.40" y1="509.94" x2="164.30" y2="509.94" stroke="#333" stroke-width="0.7"/>
<text x="160.50" y="512.34" font-size="6.0" text-anchor="end" fill="#1c1c1c" stroke="#1c1c1c" stroke-width="0.08">mmu04261 Adrenergic signaling in cardiomyocytes</text>
<line x1="164.30" y1="522.02" x2="282.60" y2="522.02" stroke="#ebebeb" stroke-width="0.8"/>
<line x1="162.40" y1="522.02" x2="164.30" y2="522.02" stroke="#333" stroke-width="0.7"/>
<text x="160.50" y="524.42" font-size="6.0" text-anchor="end" fill="#1c1c1c" stroke="#1c1c1c" stroke-width="0.08">mmu04260 Cardiac muscle contraction</text>
<line x1="164.30" y1="534.10" x2="282.60" y2="534.10" stroke="#ebebeb" stroke-width="0.8"/>
<line x1="162.40" y1="534.10" x2="164.30" y2="534.10" stroke="#333" stroke-width="0.7"/>
<text x="160.50" y="536.50" font-size="6.0" text-anchor="end" fill="#1c1c1c" stroke="#1c1c1c" stroke-width="0.08">mmu04611 Platelet activation</text>
<line x1="164.30" y1="546.18" x2="282.60" y2="546.18" stroke="#ebebeb" stroke-width="0.8"/>
<line x1="162.40" y1="546.18" x2="164.30" y2="546.18" stroke="#333" stroke-width="0.7"/>
<text x="160.50" y="548.58" font-size="6.0" text-anchor="end" fill="#1c1c1c" stroke="#1c1c1c" stroke-width="0.08">mmu03010 Ribosome</text>
<line x1="164.30" y1="558.26" x2="282.60" y2="558.26" stroke="#ebebeb" stroke-width="0.8"/>
<line x1="162.40" y1="558.26" x2="164.30" y2="558.26" stroke="#333" stroke-width="0.7"/>
<text x="160.50" y="560.66" font-size="6.0" text-anchor="end" fill="#1c1c1c" stroke="#1c1c1c" stroke-width="0.08">mmu04613 Neutrophil extracellular trap formation</text>
<rect x="164.30" y="406.30" width="118.30" height="158.80" fill="none" stroke="#a8a8a8" stroke-width="0.7"/>
<circle cx="277.40" cy="413.30" r="1.65" fill="#4B75BD" stroke="#27324a" stroke-width="0.6"/>
<circle cx="258.00" cy="425.38" r="4.90" fill="#2C58A3" stroke="#27324a" stroke-width="0.6"/>
<circle cx="251.10" cy="437.46" r="4.00" fill="#2D59A4" stroke="#27324a" stroke-width="0.6"/>
<circle cx="246.10" cy="449.54" r="4.15" fill="#2D59A4" stroke="#27324a" stroke-width="0.6"/>
<circle cx="245.20" cy="461.62" r="1.65" fill="#86ABE2" stroke="#27324a" stroke-width="0.6"/>
<circle cx="224.80" cy="473.70" r="1.50" fill="#BDD6F2" stroke="#27324a" stroke-width="0.6"/>
<circle cx="206.90" cy="485.78" r="3.00" fill="#6690D2" stroke="#27324a" stroke-width="0.6"/>
<circle cx="199.50" cy="497.86" r="5.50" fill="#2A55A0" stroke="#27324a" stroke-width="0.6"/>
<circle cx="197.20" cy="509.94" r="3.60" fill="#3F69B5" stroke="#27324a" stroke-width="0.6"/>
<circle cx="192.40" cy="522.02" r="3.00" fill="#82A8E1" stroke="#27324a" stroke-width="0.6"/>
<circle cx="180.80" cy="534.10" r="3.60" fill="#6690D0" stroke="#27324a" stroke-width="0.6"/>
<circle cx="173.10" cy="546.18" r="4.10" fill="#4670B9" stroke="#27324a" stroke-width="0.6"/>
<circle cx="169.40" cy="558.26" r="3.60" fill="#7EA3DD" stroke="#27324a" stroke-width="0.6"/>
<line x1="183.30" y1="565.10" x2="183.30" y2="566.90" stroke="#333" stroke-width="0.7"/>
<text x="183.30" y="572.60" font-size="6.2" text-anchor="middle" fill="#333" stroke="#333" stroke-width="0.08">2.0</text>
<line x1="220.10" y1="565.10" x2="220.10" y2="566.90" stroke="#333" stroke-width="0.7"/>
<text x="220.10" y="572.60" font-size="6.2" text-anchor="middle" fill="#333" stroke="#333" stroke-width="0.08">2.5</text>
<line x1="256.90" y1="565.10" x2="256.90" y2="566.90" stroke="#333" stroke-width="0.7"/>
<text x="256.90" y="572.60" font-size="6.2" text-anchor="middle" fill="#333" stroke="#333" stroke-width="0.08">3.0</text>
<text x="223.40" y="581.00" font-size="7.2" text-anchor="middle" font-weight="bold" fill="#111" stroke="#111" stroke-width="0.12">Log2 Fold enrichment</text>
<text x="292.70" y="428.20" font-size="5.9" font-weight="bold" fill="#111" stroke="#111" stroke-width="0.12">Protein number</text>
<circle cx="299.10" cy="435.60" r="1.50" fill="none" stroke="#222" stroke-width="0.6"/>
<text x="308.00" y="437.60" font-size="5.5" fill="#1c1c1c" stroke="#1c1c1c" stroke-width="0.08">2</text>
<circle cx="299.10" cy="447.20" r="3.40" fill="none" stroke="#222" stroke-width="0.6"/>
<text x="308.00" y="449.20" font-size="5.5" fill="#1c1c1c" stroke="#1c1c1c" stroke-width="0.08">4</text>
<circle cx="299.10" cy="457.60" r="4.30" fill="none" stroke="#222" stroke-width="0.6"/>
<text x="308.00" y="459.60" font-size="5.5" fill="#1c1c1c" stroke="#1c1c1c" stroke-width="0.08">6</text>
<circle cx="299.10" cy="469.50" r="5.20" fill="none" stroke="#222" stroke-width="0.6"/>
<text x="308.00" y="471.50" font-size="5.5" fill="#1c1c1c" stroke="#1c1c1c" stroke-width="0.08">8</text>
<text x="292.70" y="494.30" font-size="5.9" font-weight="bold" fill="#111" stroke="#111" stroke-width="0.12">P value</text>
<defs><linearGradient id="gc" x1="0" y1="0" x2="0" y2="1"><stop offset="0" stop-color="#C2DCF7"/><stop offset="1" stop-color="#2A55A0"/></linearGradient><linearGradient id="gd" x1="0" y1="0" x2="0" y2="1"><stop offset="0" stop-color="#C2DCF7"/><stop offset="1" stop-color="#2A55A0"/></linearGradient></defs>
<rect x="292.70" y="497.70" width="10.30" height="52.00" fill="url(#gc)"/>
<line x1="292.70" y1="502.30" x2="294.50" y2="502.30" stroke="#fff" stroke-width="0.5"/>
<line x1="301.20" y1="502.30" x2="303.00" y2="502.30" stroke="#fff" stroke-width="0.5"/>
<text x="306.00" y="504.30" font-size="5.3" fill="#1c1c1c" stroke="#1c1c1c" stroke-width="0.08">0.04</text>
<line x1="292.70" y1="514.40" x2="294.50" y2="514.40" stroke="#fff" stroke-width="0.5"/>
<line x1="301.20" y1="514.40" x2="303.00" y2="514.40" stroke="#fff" stroke-width="0.5"/>
<text x="306.00" y="516.40" font-size="5.3" fill="#1c1c1c" stroke="#1c1c1c" stroke-width="0.08">0.03</text>
<line x1="292.70" y1="526.20" x2="294.50" y2="526.20" stroke="#fff" stroke-width="0.5"/>
<line x1="301.20" y1="526.20" x2="303.00" y2="526.20" stroke="#fff" stroke-width="0.5"/>
<text x="306.00" y="528.20" font-size="5.3" fill="#1c1c1c" stroke="#1c1c1c" stroke-width="0.08">0.02</text>
<line x1="292.70" y1="537.70" x2="294.50" y2="537.70" stroke="#fff" stroke-width="0.5"/>
<line x1="301.20" y1="537.70" x2="303.00" y2="537.70" stroke="#fff" stroke-width="0.5"/>
<text x="306.00" y="539.70" font-size="5.3" fill="#1c1c1c" stroke="#1c1c1c" stroke-width="0.08">0.01</text>
<text x="500.50" y="378.90" font-size="9.7" text-anchor="middle" fill="#111" stroke="#111" stroke-width="0.12" textLength="225.81" lengthAdjust="spacingAndGlyphs">Reactome pathway enrichment analysis (Cis+EE VS Cis)</text>
<line x1="514.90" y1="394.30" x2="514.90" y2="572.20" stroke="#f3f3f3" stroke-width="0.5"/>
<line x1="547.50" y1="394.30" x2="547.50" y2="572.20" stroke="#f3f3f3" stroke-width="0.5"/>
<line x1="580.10" y1="394.30" x2="580.10" y2="572.20" stroke="#f3f3f3" stroke-width="0.5"/>
<line x1="531.20" y1="394.30" x2="531.20" y2="572.20" stroke="#ebebeb" stroke-width="0.7"/>
<line x1="563.80" y1="394.30" x2="563.80" y2="572.20" stroke="#ebebeb" stroke-width="0.7"/>
<line x1="596.40" y1="394.30" x2="596.40" y2="572.20" stroke="#ebebeb" stroke-width="0.7"/>
<line x1="505.60" y1="399.30" x2="621.30" y2="399.30" stroke="#efefef" stroke-width="0.6"/>
<line x1="503.80" y1="399.30" x2="505.60" y2="399.30" stroke="#333" stroke-width="0.45"/>
<text x="502.70" y="401.05" font-size="4.53" text-anchor="end" fill="#1c1c1c" stroke="#1c1c1c" stroke-width="0.08">R-MMU-5686938 Regulation of TLR by endogenous ligand</text>
<line x1="505.60" y1="408.14" x2="621.30" y2="408.14" stroke="#efefef" stroke-width="0.6"/>
<line x1="503.80" y1="408.14" x2="505.60" y2="408.14" stroke="#333" stroke-width="0.45"/>
<text x="502.70" y="409.89" font-size="4.53" text-anchor="end" fill="#1c1c1c" stroke="#1c1c1c" stroke-width="0.08">R-MMU-390522 Striated Muscle Contraction</text>
<line x1="505.60" y1="416.97" x2="621.30" y2="416.97" stroke="#efefef" stroke-width="0.6"/>
<line x1="503.80" y1="416.97" x2="505.60" y2="416.97" stroke="#333" stroke-width="0.45"/>
<text x="502.70" y="418.72" font-size="4.53" text-anchor="end" fill="#1c1c1c" stroke="#1c1c1c" stroke-width="0.08">R-MMU-1247673 Erythrocytes take up oxygen and release carbon dioxide</text>
<line x1="505.60" y1="425.81" x2="621.30" y2="425.81" stroke="#efefef" stroke-width="0.6"/>
<line x1="503.80" y1="425.81" x2="505.60" y2="425.81" stroke="#333" stroke-width="0.45"/>
<text x="501.80" y="427.56" font-size="4.53" text-anchor="end" fill="#1c1c1c" stroke="#1c1c1c" stroke-width="0.08" textLength="155.30" lengthAdjust="spacingAndGlyphs">R-MMU-354194 GRB2:SOS provides linkage to MAPK signaling for Integrins</text>
<rect x="343.70" y="421.01" width="160.00" height="8.80" fill="none" stroke="#333" stroke-width="0.6"/>
<line x1="505.60" y1="434.65" x2="621.30" y2="434.65" stroke="#efefef" stroke-width="0.6"/>
<line x1="503.80" y1="434.65" x2="505.60" y2="434.65" stroke="#333" stroke-width="0.45"/>
<text x="502.70" y="436.40" font-size="4.53" text-anchor="end" fill="#1c1c1c" stroke="#1c1c1c" stroke-width="0.08">R-MMU-1480926 O2/CO2 exchange in erythrocytes</text>
<line x1="505.60" y1="443.49" x2="621.30" y2="443.49" stroke="#efefef" stroke-width="0.6"/>
<line x1="503.80" y1="443.49" x2="505.60" y2="443.49" stroke="#333" stroke-width="0.45"/>
<text x="502.70" y="445.24" font-size="4.53" text-anchor="end" fill="#1c1c1c" stroke="#1c1c1c" stroke-width="0.08">R-MMU-1237044 Erythrocytes take up carbon dioxide and release oxygen</text>
<line x1="505.60" y1="452.32" x2="621.30" y2="452.32" stroke="#efefef" stroke-width="0.6"/>
<line x1="503.80" y1="452.32" x2="505.60" y2="452.32" stroke="#333" stroke-width="0.45"/>
<text x="501.80" y="454.07" font-size="4.53" text-anchor="end" fill="#1c1c1c" stroke="#1c1c1c" stroke-width="0.08" textLength="130.30" lengthAdjust="spacingAndGlyphs">R-MMU-372708 p130Cas linkage to MAPK signaling for integrins</text>
<rect x="369.10" y="447.52" width="134.60" height="8.80" fill="none" stroke="#333" stroke-width="0.6"/>
<line x1="505.60" y1="461.16" x2="621.30" y2="461.16" stroke="#efefef" stroke-width="0.6"/>
<line x1="503.80" y1="461.16" x2="505.60" y2="461.16" stroke="#333" stroke-width="0.45"/>
<text x="502.70" y="462.91" font-size="4.53" text-anchor="end" fill="#1c1c1c" stroke="#1c1c1c" stroke-width="0.08">R-MMU-140875 Common Pathway of Fibrin Clot Formation</text>
<line x1="505.60" y1="470.00" x2="621.30" y2="470.00" stroke="#efefef" stroke-width="0.6"/>
<line x1="503.80" y1="470.00" x2="505.60" y2="470.00" stroke="#333" stroke-width="0.45"/>
<text x="502.70" y="471.75" font-size="4.53" text-anchor="end" fill="#1c1c1c" stroke="#1c1c1c" stroke-width="0.08">R-MMU-140877 Formation of Fibrin Clot (Clotting Cascade)</text>
<line x1="505.60" y1="478.83" x2="621.30" y2="478.83" stroke="#efefef" stroke-width="0.6"/>
<line x1="503.80" y1="478.83" x2="505.60" y2="478.83" stroke="#333" stroke-width="0.45"/>
<text x="502.70" y="480.58" font-size="4.53" text-anchor="end" fill="#1c1c1c" stroke="#1c1c1c" stroke-width="0.08">R-MMU-354192 Integrin signaling</text>
<line x1="505.60" y1="487.67" x2="621.30" y2="487.67" stroke="#efefef" stroke-width="0.6"/>
<line x1="503.80" y1="487.67" x2="505.60" y2="487.67" stroke="#333" stroke-width="0.45"/>
<text x="502.70" y="489.42" font-size="4.53" text-anchor="end" fill="#1c1c1c" stroke="#1c1c1c" stroke-width="0.08">R-MMU-76009 Platelet Aggregation (Plug Formation)</text>
<line x1="505.60" y1="496.51" x2="621.30" y2="496.51" stroke="#efefef" stroke-width="0.6"/>
<line x1="503.80" y1="496.51" x2="505.60" y2="496.51" stroke="#333" stroke-width="0.45"/>
<text x="502.70" y="498.26" font-size="4.53" text-anchor="end" fill="#1c1c1c" stroke="#1c1c1c" stroke-width="0.08">R-MMU-397014 Muscle contraction</text>
<line x1="505.60" y1="505.34" x2="621.30" y2="505.34" stroke="#efefef" stroke-width="0.6"/>
<line x1="503.80" y1="505.34" x2="505.60" y2="505.34" stroke="#333" stroke-width="0.45"/>
<text x="501.80" y="507.09" font-size="4.53" text-anchor="end" fill="#1c1c1c" stroke="#1c1c1c" stroke-width="0.08" textLength="93.80" lengthAdjust="spacingAndGlyphs">R-MMU-5674135 MAP2K and MAPK activation</text>
<rect x="405.20" y="500.54" width="98.50" height="8.80" fill="none" stroke="#333" stroke-width="0.6"/>
<line x1="505.60" y1="514.18" x2="621.30" y2="514.18" stroke="#efefef" stroke-width="0.6"/>
<line x1="503.80" y1="514.18" x2="505.60" y2="514.18" stroke="#333" stroke-width="0.45"/>
<text x="502.70" y="515.93" font-size="4.53" text-anchor="end" fill="#1c1c1c" stroke="#1c1c1c" stroke-width="0.08">R-MMU-216083 Integrin cell surface interactions</text>
<line x1="505.60" y1="523.02" x2="621.30" y2="523.02" stroke="#efefef" stroke-width="0.6"/>
<line x1="503.80" y1="523.02" x2="505.60" y2="523.02" stroke="#333" stroke-width="0.45"/>
<text x="502.70" y="524.77" font-size="4.53" text-anchor="end" fill="#1c1c1c" stroke="#1c1c1c" stroke-width="0.08">R-MMU-114608 Platelet degranulation </text>
<line x1="505.60" y1="531.86" x2="621.30" y2="531.86" stroke="#efefef" stroke-width="0.6"/>
<line x1="503.80" y1="531.86" x2="505.60" y2="531.86" stroke="#333" stroke-width="0.45"/>
<text x="502.70" y="533.61" font-size="4.53" text-anchor="end" fill="#1c1c1c" stroke="#1c1c1c" stroke-width="0.08">R-MMU-168898 Toll-like Receptor Cascades</text>
<line x1="505.60" y1="540.69" x2="621.30" y2="540.69" stroke="#efefef" stroke-width="0.6"/>
<line x1="503.80" y1="540.69" x2="505.60" y2="540.69" stroke="#333" stroke-width="0.45"/>
<text x="502.70" y="542.44" font-size="4.53" text-anchor="end" fill="#1c1c1c" stroke="#1c1c1c" stroke-width="0.08">R-MMU-76005 Response to elevated platelet cytosolic Ca2+</text>
<line x1="505.60" y1="549.53" x2="621.30" y2="549.53" stroke="#efefef" stroke-width="0.6"/>
<line x1="503.80" y1="549.53" x2="505.60" y2="549.53" stroke="#333" stroke-width="0.45"/>
<text x="502.70" y="551.28" font-size="4.53" text-anchor="end" fill="#1c1c1c" stroke="#1c1c1c" stroke-width="0.08">R-MMU-1799339 SRP-dependent cotranslational protein targeting to membrane</text>
<line x1="505.60" y1="558.37" x2="621.30" y2="558.37" stroke="#efefef" stroke-width="0.6"/>
<line x1="503.80" y1="558.37" x2="505.60" y2="558.37" stroke="#333" stroke-width="0.45"/>
<text x="502.70" y="560.12" font-size="4.53" text-anchor="end" fill="#1c1c1c" stroke="#1c1c1c" stroke-width="0.08">R-MMU-76002 Platelet activation, signaling and aggregation</text>
<line x1="505.60" y1="567.20" x2="621.30" y2="567.20" stroke="#efefef" stroke-width="0.6"/>
<line x1="503.80" y1="567.20" x2="505.60" y2="567.20" stroke="#333" stroke-width="0.45"/>
<text x="502.70" y="568.95" font-size="4.53" text-anchor="end" fill="#1c1c1c" stroke="#1c1c1c" stroke-width="0.08">R-MMU-109582 Hemostasis</text>
<rect x="505.60" y="394.30" width="115.70" height="177.90" fill="none" stroke="#ababab" stroke-width="0.6"/>
<circle cx="616.00" cy="399.30" r="2.75" fill="#2B56A0" stroke="#1f2d4a" stroke-width="0.5"/>
<circle cx="615.60" cy="408.14" r="3.50" fill="#2A55A0" stroke="#1f2d4a" stroke-width="0.5"/>
<circle cx="609.30" cy="416.97" r="1.20" fill="#5680C6" stroke="#1f2d4a" stroke-width="0.5"/>
<circle cx="601.80" cy="425.81" r="2.60" fill="#2C57A1" stroke="#1f2d4a" stroke-width="0.5"/>
<circle cx="601.80" cy="434.65" r="1.20" fill="#A5C3EA" stroke="#1f2d4a" stroke-width="0.5"/>
<circle cx="601.80" cy="443.49" r="1.20" fill="#A5C3EA" stroke="#1f2d4a" stroke-width="0.5"/>
<circle cx="598.60" cy="452.32" r="2.60" fill="#2C57A1" stroke="#1f2d4a" stroke-width="0.5"/>
<circle cx="582.00" cy="461.16" r="2.15" fill="#4C78C0" stroke="#1f2d4a" stroke-width="0.5"/>
<circle cx="581.20" cy="470.00" r="2.75" fill="#2D58A2" stroke="#1f2d4a" stroke-width="0.5"/>
<circle cx="580.20" cy="478.83" r="2.30" fill="#2F5AA4" stroke="#1f2d4a" stroke-width="0.5"/>
<circle cx="572.90" cy="487.67" r="2.30" fill="#3863AE" stroke="#1f2d4a" stroke-width="0.5"/>
<circle cx="570.70" cy="496.51" r="3.80" fill="#2B56A0" stroke="#1f2d4a" stroke-width="0.5"/>
<circle cx="558.40" cy="505.34" r="2.30" fill="#5D87CD" stroke="#1f2d4a" stroke-width="0.5"/>
<circle cx="548.00" cy="514.18" r="2.50" fill="#4A74BC" stroke="#1f2d4a" stroke-width="0.5"/>
<circle cx="546.60" cy="523.02" r="3.20" fill="#2E59A3" stroke="#1f2d4a" stroke-width="0.5"/>
<circle cx="546.00" cy="531.86" r="2.80" fill="#3762AD" stroke="#1f2d4a" stroke-width="0.5"/>
<circle cx="544.60" cy="540.69" r="3.20" fill="#2E59A3" stroke="#1f2d4a" stroke-width="0.5"/>
<circle cx="541.20" cy="549.53" r="2.80" fill="#4470B9" stroke="#1f2d4a" stroke-width="0.5"/>
<circle cx="519.40" cy="558.37" r="3.00" fill="#86ACE3" stroke="#1f2d4a" stroke-width="0.5"/>
<circle cx="510.50" cy="567.20" r="3.80" fill="#4A76BF" stroke="#1f2d4a" stroke-width="0.5"/>
<line x1="531.20" y1="572.20" x2="531.20" y2="573.70" stroke="#333" stroke-width="0.45"/>
<text x="531.20" y="577.40" font-size="4.8" text-anchor="middle" fill="#333" stroke="#333" stroke-width="0.08">2</text>
<line x1="563.80" y1="572.20" x2="563.80" y2="573.70" stroke="#333" stroke-width="0.45"/>
<text x="563.80" y="577.40" font-size="4.8" text-anchor="middle" fill="#333" stroke="#333" stroke-width="0.08">3</text>
<line x1="596.40" y1="572.20" x2="596.40" y2="573.70" stroke="#333" stroke-width="0.45"/>
<text x="596.40" y="577.40" font-size="4.8" text-anchor="middle" fill="#333" stroke="#333" stroke-width="0.08">4</text>
<text x="563.40" y="583.60" font-size="5.5" text-anchor="middle" font-weight="bold" fill="#111" stroke="#111" stroke-width="0.12">Log2 Fold enrichment</text>
<text x="629.00" y="438.90" font-size="4.6" font-weight="bold" fill="#111" stroke="#111" stroke-width="0.12">Protein number</text>
<circle cx="633.50" cy="445.40" r="0.90" fill="none" stroke="#222" stroke-width="0.5"/>
<text x="641.00" y="447.00" font-size="4.4" fill="#1c1c1c" stroke="#1c1c1c" stroke-width="0.08">2</text>
<circle cx="633.50" cy="453.50" r="2.70" fill="none" stroke="#222" stroke-width="0.5"/>
<text x="641.00" y="455.10" font-size="4.4" fill="#1c1c1c" stroke="#1c1c1c" stroke-width="0.08">5</text>
<circle cx="633.50" cy="461.60" r="3.30" fill="none" stroke="#222" stroke-width="0.5"/>
<text x="641.00" y="463.20" font-size="4.4" fill="#1c1c1c" stroke="#1c1c1c" stroke-width="0.08">8</text>
<circle cx="633.50" cy="470.40" r="3.90" fill="none" stroke="#222" stroke-width="0.5"/>
<text x="641.00" y="472.00" font-size="4.4" fill="#1c1c1c" stroke="#1c1c1c" stroke-width="0.08">11</text>
<text x="629.00" y="489.80" font-size="4.6" font-weight="bold" fill="#111" stroke="#111" stroke-width="0.12">P value</text>
<rect x="629.00" y="492.60" width="7.90" height="39.20" fill="url(#gd)"/>
<text x="639.40" y="501.90" font-size="4.0" fill="#1c1c1c" stroke="#1c1c1c" stroke-width="0.08">0.004</text>
<text x="639.40" y="509.50" font-size="4.0" fill="#1c1c1c" stroke="#1c1c1c" stroke-width="0.08">0.003</text>
<text x="639.40" y="517.50" font-size="4.0" fill="#1c1c1c" stroke="#1c1c1c" stroke-width="0.08">0.002</text>
<text x="639.40" y="525.40" font-size="4.0" fill="#1c1c1c" stroke="#1c1c1c" stroke-width="0.08">0.001</text>
</svg>
</body></html>
